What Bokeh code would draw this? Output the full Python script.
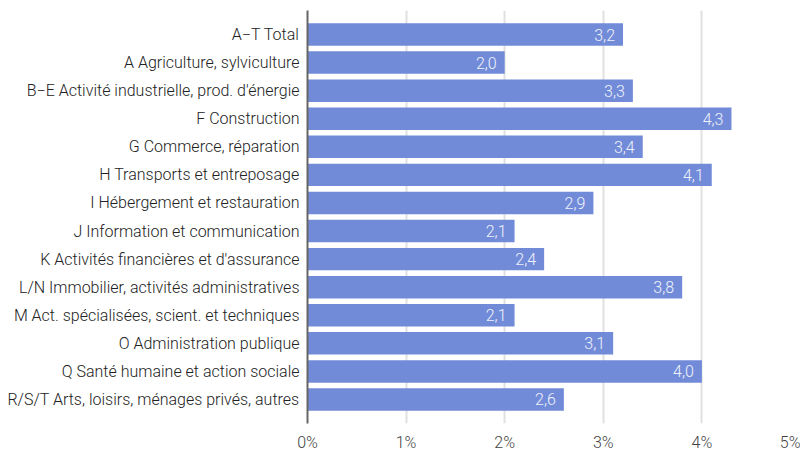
from bokeh.plotting import figure
from bokeh.models import ColumnDataSource, FactorRange, Range1d, FixedTicker
from bokeh.core.properties import value
from bokeh.embed import file_html
from bokeh.resources import INLINE

categories = [
    "A\u2212T Total",
    "A Agriculture, sylviculture",
    "B\u2212E Activité industrielle, prod. d'énergie",
    "F Construction",
    "G Commerce, réparation",
    "H Transports et entreposage",
    "I Hébergement et restauration",
    "J Information et communication",
    "K Activités financières et d'assurance",
    "L/N Immobilier, activités administratives",
    "M Act. spécialisées, scient. et techniques",
    "O Administration publique",
    "Q Santé humaine et action sociale",
    "R/S/T Arts, loisirs, ménages privés, autres",
]
values = [3.2, 2.0, 3.3, 4.3, 3.4, 4.1, 2.9, 2.1, 2.4, 3.8, 2.1, 3.1, 4.0, 2.6]
x_ticks = [0, 1, 2, 3, 4, 5]
x_tick_labels = ["0%", "1%", "2%", "3%", "4%", "5%"]

labels = [f"{v:.1f}".replace(".", ",") for v in values]
source = ColumnDataSource(dict(cat=categories, val=values, lab=labels))

FONT = "Roboto Light"
FW, FH = 493, 413

p = figure(
    frame_width=FW, frame_height=FH,
    y_range=FactorRange(factors=list(reversed(categories)),
                        range_padding=0.355, range_padding_units="absolute"),
    x_range=Range1d(0, 5),
    output_backend="svg", toolbar_location=None,
    min_border_left=307, min_border_right=0, min_border_top=10, min_border_bottom=20,
)
p.outline_line_color = None
p.background_fill_color = "white"

p.hbar(y="cat", right="val", left=0, height=0.8, source=source,
       fill_color="#728bd8", line_color=None)

p.text(x="val", y="cat", text="lab", source=source, x_offset=-8,
       text_align="right", text_baseline="middle",
       text_font=value(FONT), text_font_size="16px", text_color="#eef1fa")

# axes
p.xaxis.ticker = FixedTicker(ticks=x_ticks)
p.xaxis.major_label_overrides = {t: l for t, l in zip(x_ticks, x_tick_labels)}
p.xaxis.axis_line_color = None
p.xaxis.major_tick_line_color = None
p.xaxis.minor_tick_line_color = None
p.xaxis.major_tick_out = 0
p.xaxis.major_label_standoff = 9
p.xaxis.major_label_text_font = FONT
p.xaxis.major_label_text_font_size = "16px"
p.xaxis.major_label_text_color = "#444444"

p.yaxis.axis_line_color = "#666666"
p.yaxis.axis_line_width = 2
p.yaxis.major_tick_line_color = None
p.yaxis.minor_tick_line_color = None
p.yaxis.major_tick_out = 0
p.yaxis.major_label_standoff = 8
p.yaxis.major_label_text_font = FONT
p.yaxis.major_label_text_font_size = "16px"
p.yaxis.major_label_text_color = "#222222"

p.xgrid.ticker = FixedTicker(ticks=x_ticks[1:5])
p.xgrid.grid_line_color = "#e0e0e0"
p.xgrid.grid_line_width = 2
p.ygrid.grid_line_color = None

open("out.html", "w").write(file_html(p, INLINE))
